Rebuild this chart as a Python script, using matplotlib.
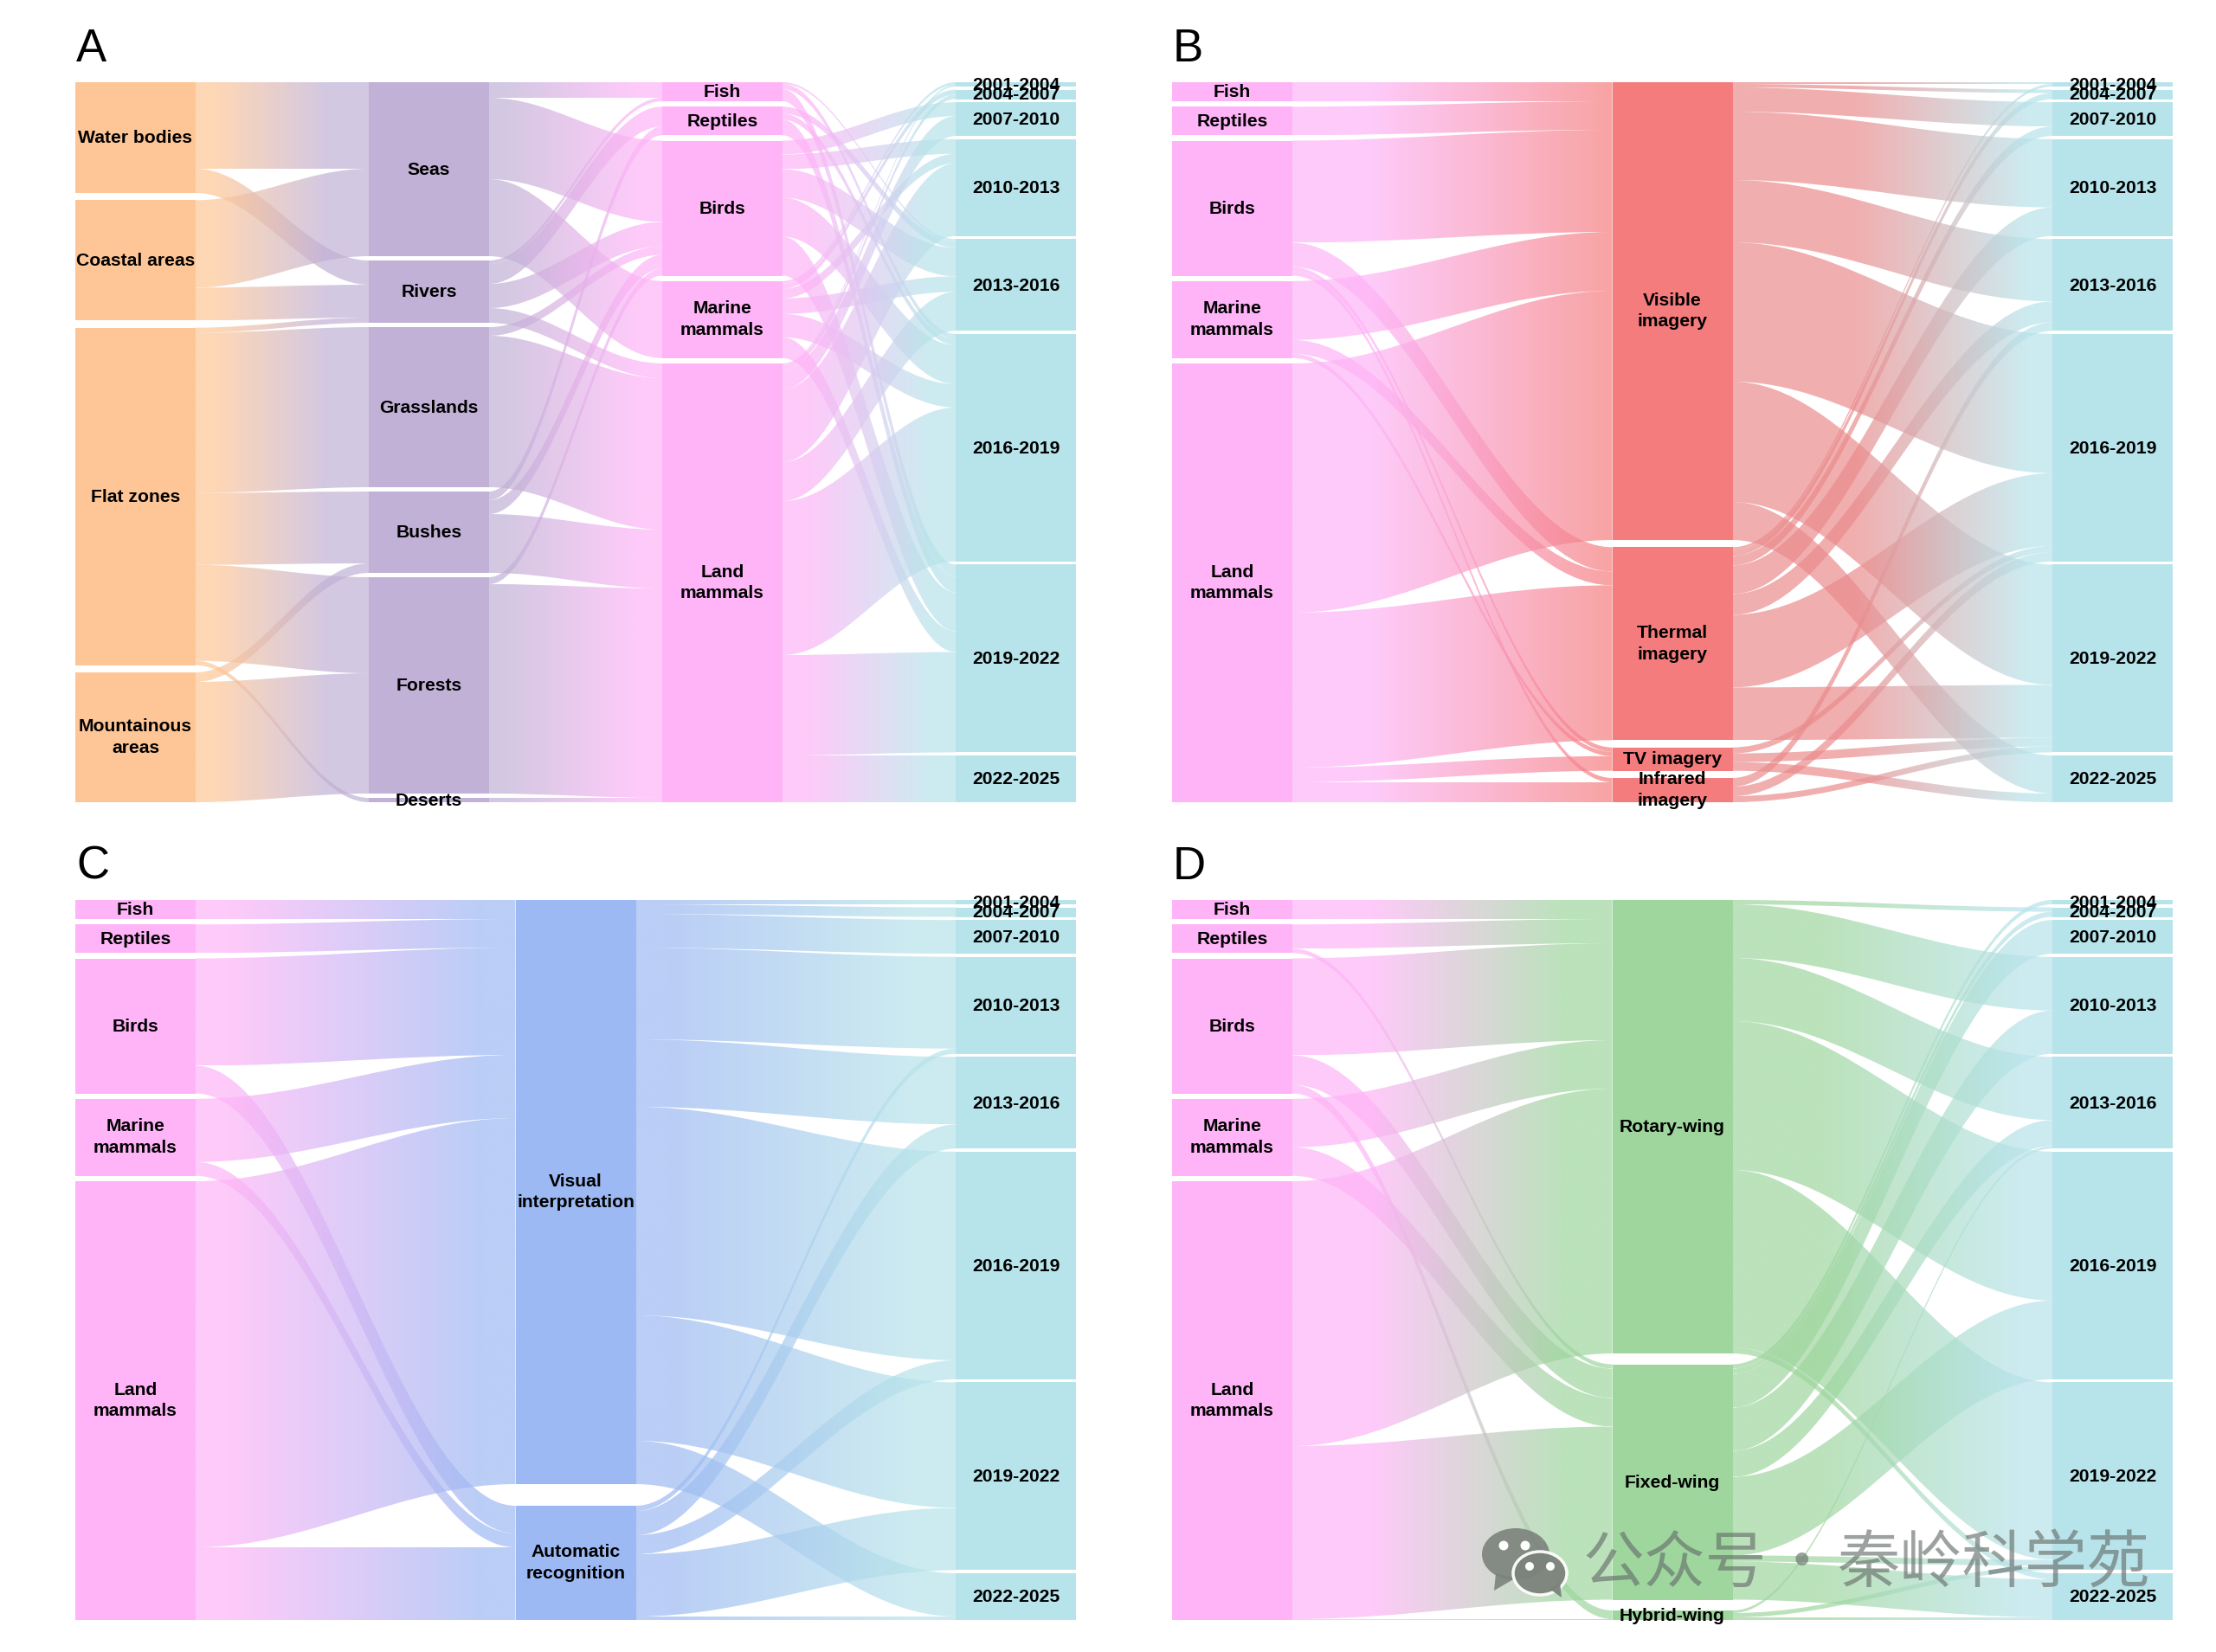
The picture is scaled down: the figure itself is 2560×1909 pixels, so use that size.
import numpy as np
import matplotlib
matplotlib.use("Agg")
import matplotlib.pyplot as plt
from matplotlib.path import Path
from matplotlib.patches import PathPatch, Rectangle, Ellipse, Polygon, Circle

plt.rcParams['font.family'] = ['Liberation Sans', 'DejaVu Sans']

# ---------- data (band thickness) ----------
species = ["Fish", "Reptiles", "Birds", "Marine\nmammals", "Land\nmammals"]
years = ["2001-2004", "2004-2007", "2007-2010", "2010-2013", "2013-2016",
         "2016-2019", "2019-2022", "2022-2025"]
zones = ["Water bodies", "Coastal areas", "Flat zones", "Mountainous\nareas"]
habitats = ["Seas", "Rivers", "Grasslands", "Bushes", "Forests", "Deserts"]
imagery = ["Visible\nimagery", "Thermal\nimagery", "TV imagery", "Infrared\nimagery"]
methods = ["Visual\ninterpretation", "Automatic\nrecognition"]
platforms = ["Rotary-wing", "Fixed-wing", "Hybrid-wing"]

# Panel A
zone_habitat = [[100, 28, 0, 0, 0, 0],
                [101, 38, 0, 0, 0, 0],
                [0, 6, 185, 83, 111, 5],
                [0, 0, 0, 11, 139, 0]]
habitat_species = [[18, 0, 94, 89, 0],
                   [4, 23, 28, 0, 17],
                   [0, 0, 10, 0, 175],
                   [0, 10, 16, 0, 68],
                   [0, 0, 8, 0, 242],
                   [0, 0, 0, 0, 5]]
species_year = [[0, 0, 0, 0, 2, 6, 14, 0],
                [0, 0, 0, 0, 8, 7, 18, 0],
                [0, 0, 16, 17, 33, 45, 45, 0],
                [3, 6, 0, 11, 18, 27, 24, 0],
                [2, 5, 23, 84, 45, 178, 116, 54]]
# Panel B
species_imagery = [[22, 0, 0, 0],
                   [33, 0, 0, 0],
                   [118, 28, 5, 5],
                   [68, 16, 5, 0],
                   [288, 179, 17, 23]]
imagery_year = [[2, 4, 28, 79, 72, 161, 139, 44],
                [3, 7, 11, 33, 24, 84, 61, 0],
                [0, 0, 0, 0, 0, 7, 10, 10],
                [0, 0, 0, 0, 10, 11, 7, 0]]
# Panel C
species_method = [[22, 0],
                  [33, 0],
                  [124, 32],
                  [73, 16],
                  [423, 84]]
method_year = [[5, 11, 39, 106, 78, 241, 145, 50],
               [0, 0, 0, 6, 28, 22, 72, 4]]
# Panel D
species_platform = [[22, 0, 0],
                    [28, 5, 0],
                    [112, 34, 10],
                    [56, 33, 0],
                    [306, 200, 1]]
platform_year = [[0, 5, 0, 62, 73, 172, 205, 7],
                 [5, 6, 39, 50, 30, 91, 7, 44],
                 [0, 0, 0, 0, 3, 0, 5, 3]]

# ---------- colours ----------
ORANGE, LAVENDER, PINK, CYAN = "#FEC696", "#C1B1D6", "#FEB4F7", "#B7E3EA"
RED, BLUE, GREEN = "#F57C7C", "#9CB9F3", "#9ED69E"
LINK_ALPHA = 0.7
CURVE = 0.36
PANEL_H = 832.0

W, H = 2560, 1909
fig = plt.figure(figsize=(W / 100, H / 100), dpi=100, facecolor="white")


def gradient(c0, c1, stops):
    a = np.array(matplotlib.colors.to_rgb(c0))
    b = np.array(matplotlib.colors.to_rgb(c1))
    t = np.clip((np.linspace(0, 1, 256) - stops[0]) / (stops[1] - stops[0]), 0, 1)
    floor = stops[2] if len(stops) > 2 else 0.0
    t = floor + (1 - floor) * t
    rgba = np.ones((1, 256, 4))
    rgba[0, :, :3] = a[None, :] * (1 - t[:, None]) + b[None, :] * t[:, None]
    rgba[0, :, 3] = LINK_ALPHA
    return rgba


def stack(sizes):
    sizes = np.asarray(sizes, float)
    gap = (PANEL_H - sizes.sum()) / (len(sizes) - 1)
    return np.concatenate([[0], np.cumsum(sizes[:-1] + gap)])


def draw_panel(box, letter, labels, colors, matrices, stops):
    """box: left, top, right in figure pixels"""
    l, t, r = box
    b = t + PANEL_H
    ax = fig.add_axes([l / W, 1 - b / H, (r - l) / W, (b - t) / H])
    ax.axis("off")
    n = len(labels)
    nw = 139.0
    xs = np.linspace(0, (r - l) - nw, n)
    mats = [np.asarray(m, float) for m in matrices]
    sizes = [m.sum(axis=1) for m in mats] + [mats[-1].sum(axis=0)]
    tops = [stack(s) for s in sizes]
    for i, m in enumerate(mats):
        x0, x1 = xs[i] + nw, xs[i + 1]
        xa, xb = x0 + CURVE * (x1 - x0), x1 - CURVE * (x1 - x0)
        src = tops[i].copy()
        tgt = tops[i + 1].copy()
        grad = gradient(colors[i], colors[i + 1], stops[i])
        for a in range(m.shape[0]):
            for c in range(m.shape[1]):
                v = m[a, c]
                if v <= 0:
                    continue
                y0 = src[a] + m[a, :c].sum()
                y1 = tgt[c] + m[:a, c].sum()
                verts = [(x0, y0), (xa, y0), (xb, y1), (x1, y1),
                         (x1, y1 + v), (xb, y1 + v), (xa, y0 + v), (x0, y0 + v), (x0, y0)]
                codes = [Path.MOVETO, Path.CURVE4, Path.CURVE4, Path.CURVE4, Path.LINETO,
                         Path.CURVE4, Path.CURVE4, Path.CURVE4, Path.CLOSEPOLY]
                patch = PathPatch(Path(verts, codes), fc="none", ec="none", transform=ax.transData)
                ax.add_patch(patch)
                ymin, ymax = min(y0, y1), max(y0, y1) + v
                im = ax.imshow(grad, extent=(x0, x1, ymax, ymin), aspect="auto",
                               interpolation="bilinear", zorder=2)
                im.set_clip_path(patch)
    for i in range(n):
        for name, size, y in zip(labels[i], sizes[i], tops[i]):
            ax.add_patch(Rectangle((xs[i], y), nw, size, fc=colors[i], ec="none", zorder=3))
            shift = 0 if "\n" in name else 0.8
            ax.text(xs[i] + nw / 2, y + size / 2 + shift, name, ha="center", va="center",
                    fontsize=15.2, fontweight="bold", color="black", zorder=4,
                    linespacing=1.38, clip_on=False)
    ax.set_xlim(0, r - l)
    ax.set_ylim(PANEL_H, 0)
    fig.text((l + 1) / W, 1 - (t - 24) / H, letter, fontsize=38, ha="left", va="baseline", color="black")


draw_panel((87, 95, 1243), "A", [zones, habitats, species, years],
           [ORANGE, LAVENDER, PINK, CYAN], [zone_habitat, habitat_species, species_year],
           [(0.12, 0.75), (0.1, 0.85), (0.15, 0.85)])
draw_panel((1354, 95, 2510), "B", [species, imagery, years],
           [PINK, RED, CYAN], [species_imagery, imagery_year],
           [(0.25, 1.0), (0.38, 0.92, 0.15)])
draw_panel((87, 1040, 1243), "C", [species, methods, years],
           [PINK, BLUE, CYAN], [species_method, method_year],
           [(0.1, 0.9), (0.1, 0.87)])
draw_panel((1354, 1040, 2510), "D", [species, platforms, years],
           [PINK, GREEN, CYAN], [species_platform, platform_year],
           [(0.25, 0.85), (0.28, 0.9)])

# ---------- watermark overlay ----------
ov = fig.add_axes([0, 0, 1, 1], zorder=10)
ov.set_xlim(0, W)
ov.set_ylim(H, 0)
ov.axis("off")
ov.patch.set_alpha(0)
wm = "#7C827C"
tx = "#68706C"
ov.add_patch(Ellipse((1751, 1796), 78, 60, fc=wm, ec="none", alpha=0.9))
ov.add_patch(Polygon([(1728, 1818), (1726, 1838), (1750, 1824)], fc=wm, ec="none", alpha=0.9))
ov.add_patch(Ellipse((1779, 1818), 62, 50, fc=wm, ec="white", lw=2.5, alpha=0.95))
ov.add_patch(Polygon([(1790, 1836), (1804, 1846), (1802, 1828)], fc=wm, ec="none", alpha=0.95))
for cx, cy, rad in [(1737, 1786, 5.5), (1762, 1786, 5.5), (1767, 1810, 5), (1791, 1810, 5)]:
    ov.add_patch(Circle((cx, cy), rad, fc="white", ec="none"))
cjk = ['Noto Sans CJK SC', 'DejaVu Sans']
ov.text(1828, 1808, "公众号", family=cjk, fontsize=51, color=tx, alpha=0.65, ha="left", va="center")
ov.text(2081, 1808, "·", family=cjk, fontsize=50, color=tx, alpha=0.65, ha="center", va="center")
ov.text(2122, 1808, "秦岭科学苑", family=cjk, fontsize=52, color=tx, alpha=0.65, ha="left", va="center")

fig.savefig("out.png", dpi=100, facecolor="white")
